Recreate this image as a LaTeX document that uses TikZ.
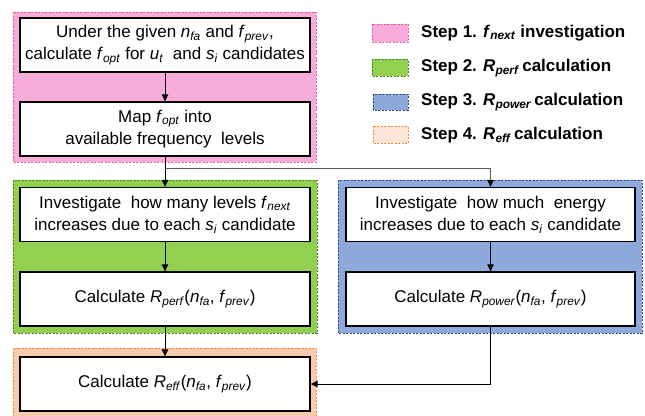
\documentclass[tikz,border=0pt]{standalone}
\usepackage{fontspec}
\setmainfont{Liberation Sans}
\usetikzlibrary{arrows.meta}
\definecolor{pinkfill}{HTML}{F7ACD9}
\definecolor{pinkline}{HTML}{E05A9E}
\definecolor{greenfill}{HTML}{92D050}
\definecolor{greenline}{HTML}{4E7A2E}
\definecolor{bluefill}{HTML}{8EA9DB}
\definecolor{blueline}{HTML}{2F4470}
\definecolor{orangefill}{HTML}{F8CBAD}
\definecolor{orangelight}{HTML}{FBE5D6}
\definecolor{orangeline}{HTML}{F08A3C}
\newcommand{\vs}[2]{\textit{#1}\textsubscript{\textit{#2}}}
\tikzset{
  region/.style={line width=0.8bp, dash pattern=on 2bp off 1.5bp},
  procbox/.style={draw=black, fill=white, line width=1.3bp, minimum width=290bp,
    minimum height=54bp, align=center, inner sep=0pt,
    font=\fontsize{17bp}{22bp}\selectfont},
  swatch/.style={line width=1bp, dash pattern=on 2bp off 1.5bp},
  legtext/.style={anchor=west, inner sep=0pt, font=\fontsize{17bp}{19bp}\selectfont\bfseries},
  flow/.style={line width=0.9bp, -{Triangle[length=7bp,width=6.5bp]}},
  branch/.style={line width=0.8bp, draw=black!65, -{Triangle[length=7bp,width=6.5bp,color=black,fill=black]}}
}
\begin{document}
\begin{tikzpicture}[x=1bp, y=-1bp]
\useasboundingbox (0,0) rectangle (645,415);
% step regions
\fill[pinkfill] (13,12) rectangle (316,162);
\draw[region, pinkline] (13,12) rectangle (316,162);
\fill[greenfill] (13,180) rectangle (317,333);
\draw[region, greenline] (13,180) rectangle (317,333);
\fill[bluefill] (338,180) rectangle (642,333);
\draw[region, blueline] (338,180) rectangle (642,333);
\fill[orangefill] (13,348) rectangle (316,420);
\draw[region, orangeline] (13,420) -- (13,348) -- (316,348) -- (316,420);
% process boxes
\node[procbox] (b1) at (165,45) {Under the given \vs{n}{fa} and \vs{f}{prev},\\calculate \vs{f}{opt} for \vs{u}{t}\ \ and \vs{s}{i} candidates};
\node[procbox] (b2) at (165,129) {Map \vs{f}{opt} into\\available frequency\ \ levels};
\node[procbox] (b3) at (165,214.5) {Investigate\ \ how many levels \vs{f}{next}\\increases due to each \vs{s}{i} candidate};
\node[procbox] (b4) at (165,299) {Calculate \vs{R}{perf}(\vs{n}{fa}, \vs{f}{prev})};
\node[procbox] (b5) at (165,384) {Calculate \vs{R}{eff}(\vs{n}{fa}, \vs{f}{prev})};
\node[procbox, minimum width=289bp] (r1) at (490.5,214.5) {Investigate\ \ how much\ \ energy\\increases due to each \vs{s}{i} candidate};
\node[procbox, minimum width=289bp] (r2) at (490.5,299) {Calculate \vs{R}{power}(\vs{n}{fa}, \vs{f}{prev})};
% connectors
\coordinate (split) at (b2.south |- 0,168);
\draw[flow] (b1) -- (b2);
\draw[flow] (b2) -- (b3);
\draw[branch] (split) -| (r1.north);
\draw[flow] (b3) -- (b4);
\draw[flow] (b4) -- (b5);
\draw[flow] (r1) -- (r2);
\draw[flow] (r2.south) |- (b5.east);
% legend
\draw[swatch, pinkline, fill=pinkfill] (372,24) rectangle (408,42);
\draw[swatch, greenline, fill=greenfill] (372,59) rectangle (408,76);
\draw[swatch, blueline, fill=bluefill] (373,94) rectangle (408,110);
\draw[swatch, orangeline, fill=orangelight] (373,126) rectangle (408,143);
\node[legtext] (l1) at (421,33) {Step 1. \vs{f}{next} investigation};
\node[legtext] (l2) at (421,68) {Step 2. \vs{R}{perf}\,calculation};
\node[legtext] (l3) at (421,102) {Step 3. \vs{R}{power}\,calculation};
\node[legtext] (l4) at (421,135) {Step 4. \vs{R}{eff}\,calculation};
\end{tikzpicture}
\end{document}
